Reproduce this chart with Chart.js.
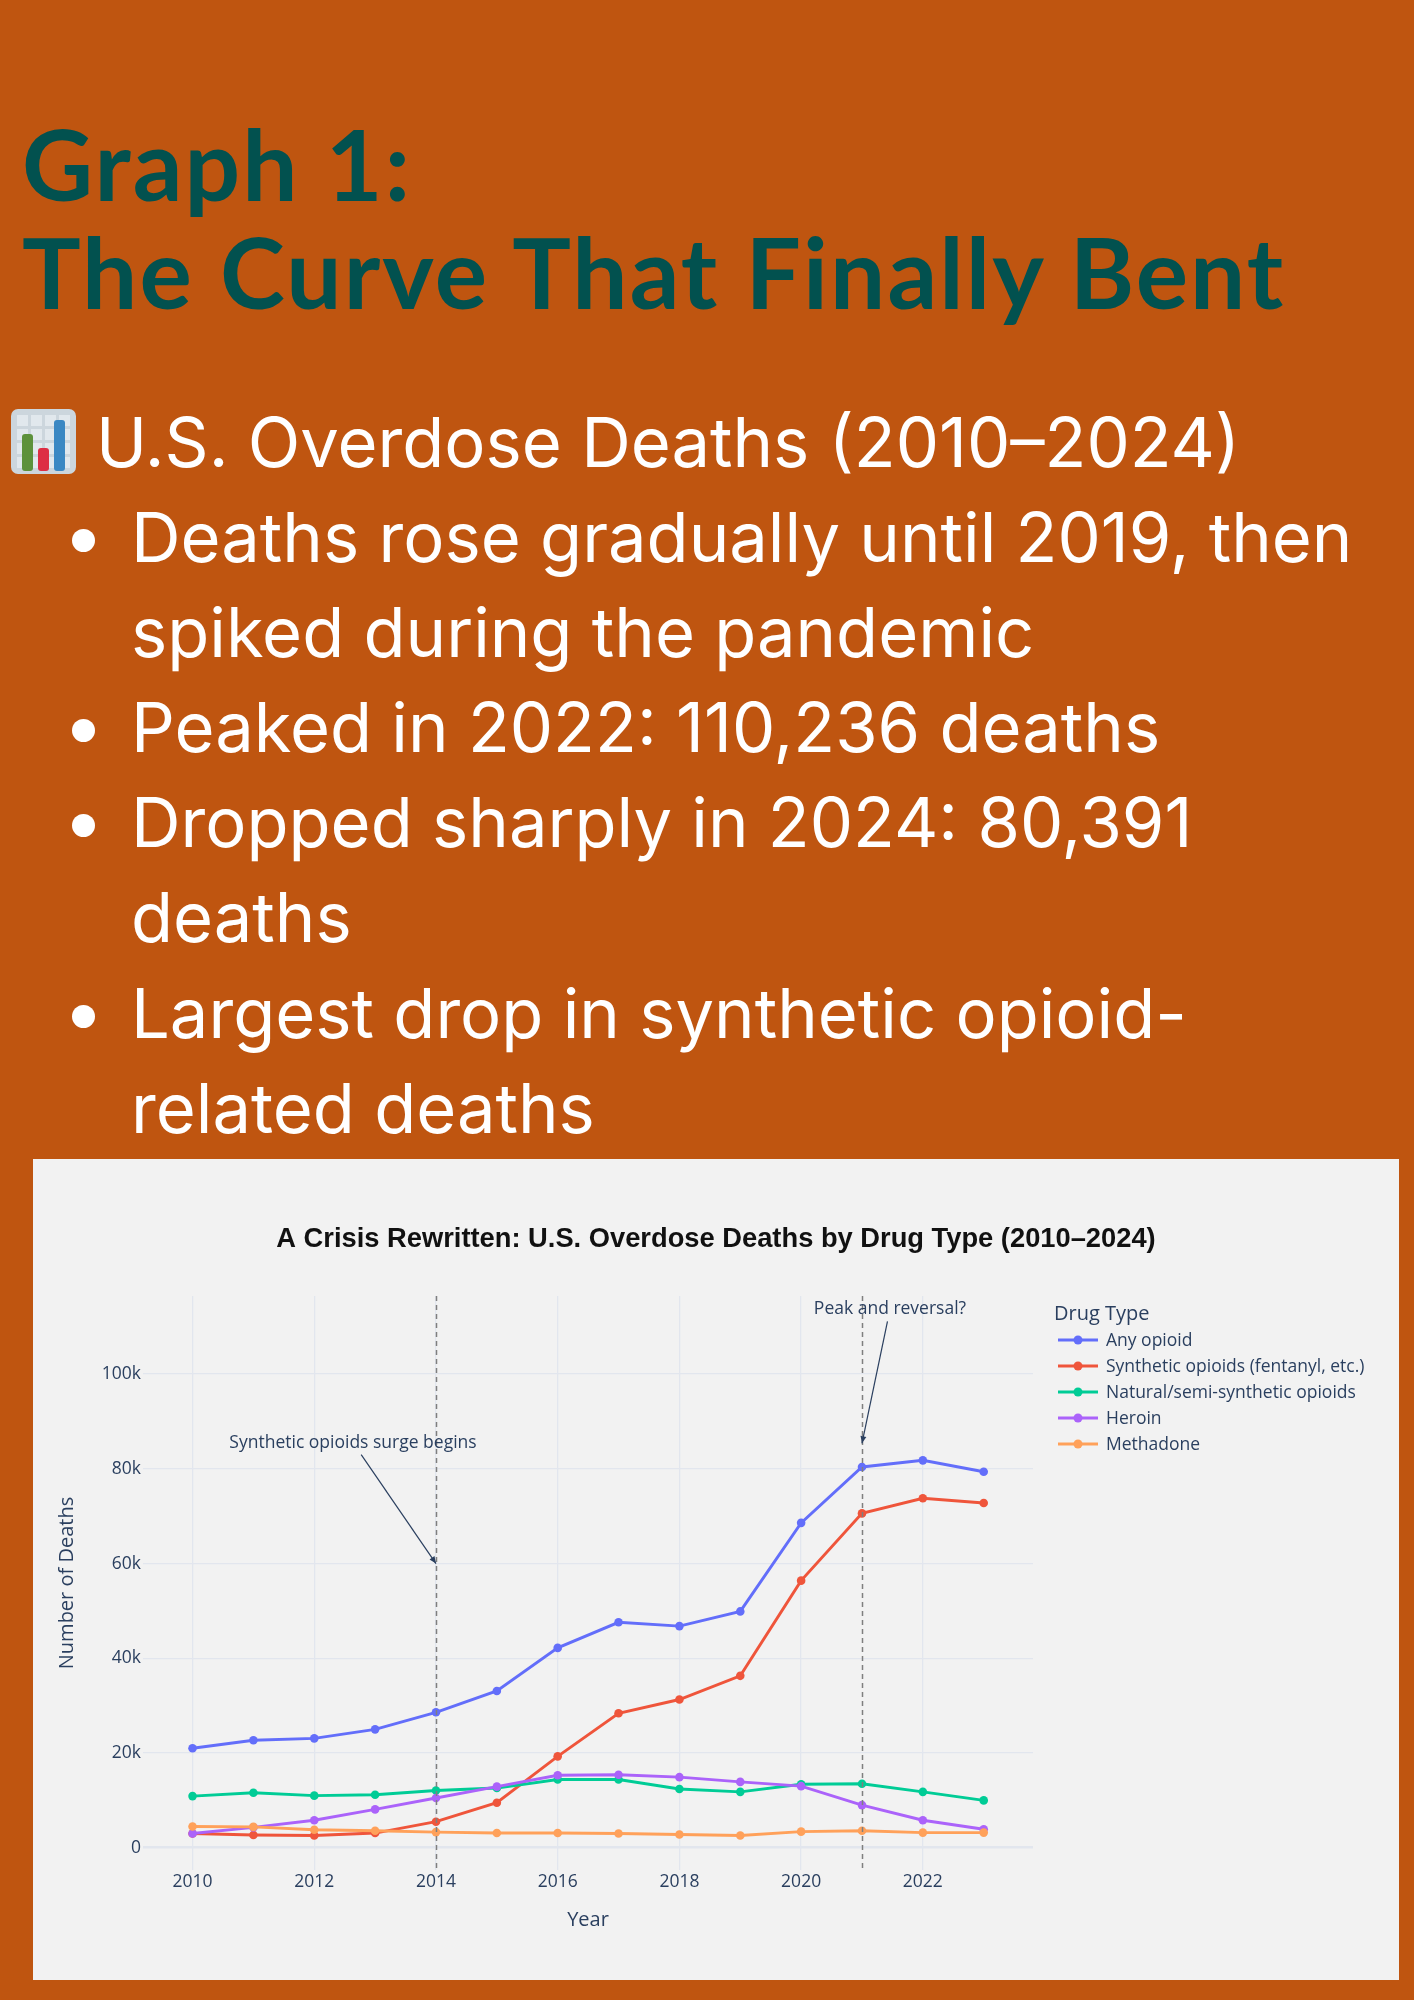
<!DOCTYPE html>
<html>
<head>
<meta charset="utf-8">
<title>Graph 1: The Curve That Finally Bent</title>
<script src="https://cdn.jsdelivr.net/npm/chart.js@4.4.1/dist/chart.umd.min.js"></script>
<style>
  html, body { margin: 0; padding: 0; }
  body {
    width: 1414px; height: 2000px; position: relative; overflow: hidden;
    background: #bf5510; font-family: Inter, Roboto, sans-serif;
  }
  h1 {
    position: absolute; left: 22px; top: 109px; margin: 0;
    font-family: Lato, sans-serif; font-weight: 700; font-size: 98px; line-height: 108px;
    letter-spacing: 2.15px; color: #02514f; white-space: nowrap;
  }
  #notes { position: absolute; left: 0; top: 394.5px; color: #fff; font-size: 68.7px; }
  #notes .ln { position: relative; height: 95.2px; line-height: 95.2px; white-space: nowrap; }
  #notes .sub { padding-left: 96px; }
  #notes .txt { padding-left: 131px; }
  #notes .dot {
    position: absolute; left: 72px; top: 39px; width: 23px; height: 23px;
    border-radius: 50%; background: #fff;
  }
  #notes svg { position: absolute; left: 10px; top: 13px; }
  #panel { position: absolute; left: 33px; top: 1159px; width: 1366px; height: 821px; background: #f2f2f2; }
</style>
</head>
<body>
<h1>Graph 1:<br>The Curve That Finally Bent</h1>

<div id="notes">
  <div class="ln sub">
    <svg width="67" height="67" viewBox="0 0 67 67">
      <rect x="1" y="1" width="65" height="65" rx="7" fill="#ccd6dd"/>
      <g fill="#e1e8ed">
        <rect x="7" y="7" width="11" height="11"/><rect x="21" y="7" width="11" height="11"/><rect x="35" y="7" width="11" height="11"/><rect x="49" y="7" width="11" height="11"/>
        <rect x="7" y="21" width="11" height="11"/><rect x="21" y="21" width="11" height="11"/><rect x="35" y="21" width="11" height="11"/><rect x="49" y="21" width="11" height="11"/>
        <rect x="7" y="35" width="11" height="11"/><rect x="21" y="35" width="11" height="11"/><rect x="35" y="35" width="11" height="11"/><rect x="49" y="35" width="11" height="11"/>
        <rect x="7" y="49" width="11" height="11"/><rect x="21" y="49" width="11" height="11"/><rect x="35" y="49" width="11" height="11"/><rect x="49" y="49" width="11" height="11"/>
      </g>
      <rect x="12" y="26" width="11" height="37" rx="3" fill="#5c913b"/>
      <rect x="28" y="40" width="11" height="23" rx="3" fill="#dd2e44"/>
      <rect x="44" y="12" width="11" height="51" rx="3" fill="#3b88c3"/>
    </svg>
    U.S. Overdose Deaths (2010–2024)
  </div>
  <div class="ln txt"><span class="dot"></span>Deaths rose gradually until 2019, then</div>
  <div class="ln txt">spiked during the pandemic</div>
  <div class="ln txt"><span class="dot"></span>Peaked in 2022: 110,236 deaths</div>
  <div class="ln txt"><span class="dot"></span>Dropped sharply in 2024: 80,391</div>
  <div class="ln txt">deaths</div>
  <div class="ln txt"><span class="dot"></span>Largest drop in synthetic opioid-</div>
  <div class="ln txt">related deaths</div>
</div>

<div id="panel"><canvas id="chart"></canvas></div>

<script>
const chartTitle = 'A Crisis Rewritten: U.S. Overdose Deaths by Drug Type (2010–2024)';
const years = [2010, 2011, 2012, 2013, 2014, 2015, 2016, 2017, 2018, 2019, 2020, 2021, 2022, 2023];
const anyOpioid   = [21000, 22700, 23100, 25000, 28600, 33100, 42200, 47600, 46800, 49900, 68600, 80400, 81800, 79400];
const synthetic   = [3000, 2700, 2600, 3100, 5500, 9500, 19300, 28400, 31300, 36300, 56400, 70600, 73800, 72800];
const naturalSemi = [10900, 11600, 11000, 11200, 12100, 12600, 14400, 14400, 12400, 11800, 13400, 13500, 11800, 10000];
const heroin      = [3000, 4300, 5800, 8100, 10500, 12900, 15300, 15400, 14900, 13900, 13000, 9000, 5800, 3900];
const methadone   = [4500, 4400, 3800, 3600, 3300, 3100, 3100, 3000, 2800, 2600, 3400, 3600, 3200, 3200];
const seriesNames = ['Any opioid', 'Synthetic opioids (fentanyl, etc.)', 'Natural/semi-synthetic opioids', 'Heroin', 'Methadone'];
const seriesValues = [anyOpioid, synthetic, naturalSemi, heroin, methadone];
const seriesColors = ['#636efa', '#ef553b', '#00cc96', '#ab63fa', '#ffa15a'];
const xTicks = [2010, 2012, 2014, 2016, 2018, 2020, 2022];
const yTicks = [0, 20000, 40000, 60000, 80000, 100000];
const markerYears = [2014, 2021];
const notes = [
  {text: 'Synthetic opioids surge begins', year: 2014, value: 60000},
  {text: 'Peak and reversal?', year: 2021, value: 85400}
];
// text offsets of the notes from the arrow heads, in pixels
const noteOffsets = [[-83, -121], [28, -134]];

const INK = '#2a3f5f';
const FONT = '"Open Sans", "DejaVu Sans", sans-serif';

const overlay = {
  id: 'overlay',
  afterDatasetsDraw(chart) {
    const {ctx, chartArea: a, scales: {x}} = chart;
    ctx.save();
    ctx.strokeStyle = '#7f7f7f';
    ctx.lineWidth = 1.5;
    ctx.setLineDash([5, 4]);
    for (const yr of markerYears) {
      const px = Math.round(x.getPixelForValue(yr)) + 0.5;
      ctx.beginPath();
      ctx.moveTo(px, a.top);
      ctx.lineTo(px, a.bottom);
      ctx.stroke();
    }
    ctx.restore();
  },
  afterDraw(chart) {
    const {ctx, chartArea: a, scales: {x, y}} = chart;
    ctx.save();

    // title, centred on the whole panel
    ctx.fillStyle = '#111';
    ctx.font = 'bold 27.3px "Liberation Sans", Arial, sans-serif';
    ctx.textAlign = 'center';
    ctx.textBaseline = 'alphabetic';
    ctx.fillText(chartTitle, chart.width / 2, 88);

    // x axis title
    ctx.fillStyle = INK;
    ctx.font = '20px ' + FONT;
    ctx.fillText('Year', (a.left + a.right) / 2, 767);

    // notes with arrows
    ctx.font = '17.5px ' + FONT;
    notes.forEach((n, i) => {
      const hx = x.getPixelForValue(n.year), hy = y.getPixelForValue(n.value);
      const [dx, dy] = noteOffsets[i];
      const tx = hx + dx, ty = hy + dy;
      const k = 1 - 12 / Math.abs(dy);
      const sx = hx + dx * k, sy = hy + dy * k;
      ctx.fillStyle = INK;
      ctx.textAlign = 'center';
      ctx.textBaseline = 'middle';
      ctx.fillText(n.text, tx, ty);
      ctx.strokeStyle = INK;
      ctx.lineWidth = 1.2;
      ctx.beginPath();
      ctx.moveTo(sx, sy);
      ctx.lineTo(hx, hy);
      ctx.stroke();
      const ang = Math.atan2(hy - sy, hx - sx);
      ctx.beginPath();
      ctx.moveTo(hx, hy);
      ctx.lineTo(hx - 7 * Math.cos(ang) + 3 * Math.sin(ang), hy - 7 * Math.sin(ang) - 3 * Math.cos(ang));
      ctx.lineTo(hx - 7 * Math.cos(ang) - 3 * Math.sin(ang), hy - 7 * Math.sin(ang) + 3 * Math.cos(ang));
      ctx.closePath();
      ctx.fillStyle = INK;
      ctx.fill();
    });

    // legend
    ctx.textAlign = 'left';
    ctx.textBaseline = 'alphabetic';
    ctx.fillStyle = INK;
    ctx.font = '20px ' + FONT;
    ctx.fillText('Drug Type', 1021, 161);
    ctx.font = '17.5px ' + FONT;
    chart.data.datasets.forEach((ds, i) => {
      const base = 187 + i * 26;
      const cy = base - 6;
      ctx.strokeStyle = ds.borderColor;
      ctx.lineWidth = 2.9;
      ctx.beginPath();
      ctx.moveTo(1025, cy);
      ctx.lineTo(1065, cy);
      ctx.stroke();
      ctx.fillStyle = ds.borderColor;
      ctx.beginPath();
      ctx.arc(1045, cy, 4.5, 0, Math.PI * 2);
      ctx.fill();
      ctx.fillStyle = INK;
      ctx.fillText(ds.label, 1073, base);
    });
    ctx.restore();
  }
};

new Chart(document.getElementById('chart'), {
  type: 'line',
  data: {
    datasets: seriesNames.map((name, i) => ({
      label: name,
      data: years.map((yr, j) => ({x: yr, y: seriesValues[i][j]})),
      borderColor: seriesColors[i],
      backgroundColor: seriesColors[i],
      borderWidth: 2.9,
      pointRadius: 4.3,
      pointBorderWidth: 0,
      pointHoverRadius: 4.3,
      tension: 0,
      order: seriesNames.length - i
    }))
  },
  options: {
    responsive: true,
    maintainAspectRatio: false,
    animation: false,
    layout: {padding: {top: 137, right: 366, bottom: 0, left: 0}},
    plugins: {
      legend: {display: false},
      title: {display: false},
      tooltip: {enabled: false}
    },
    scales: {
      x: {
        type: 'linear',
        min: 2009.186,
        max: 2023.81,
        afterFit: s => { s.height = 110; },
        afterBuildTicks: s => { s.ticks = xTicks.map(v => ({value: v})); },
        border: {display: false},
        grid: {color: '#e2e6ee', lineWidth: 1.3, drawTicks: false},
        ticks: {
          padding: 2,
          color: INK,
          font: {family: FONT, size: 17.5},
          callback: v => String(v)
        }
      },
      y: {
        min: -4700,
        max: 116500,
        afterFit: s => { s.width = 110; },
        afterBuildTicks: s => { s.ticks = yTicks.map(v => ({value: v})); },
        border: {display: false},
        grid: {
          color: '#e2e6ee',
          lineWidth: ctx => (ctx.tick && ctx.tick.value === 0 ? 2.6 : 1.3),
          drawTicks: false
        },
        ticks: {
          padding: 2,
          color: INK,
          font: {family: FONT, size: 17.5},
          callback: v => (v === 0 ? '0' : (v / 1000) + 'k')
        },
        title: {
          display: true,
          text: 'Number of Deaths',
          color: INK,
          font: {family: FONT, size: 20},
          padding: {top: 22, bottom: 0}
        }
      }
    }
  },
  plugins: [overlay]
});
</script>
</body>
</html>
